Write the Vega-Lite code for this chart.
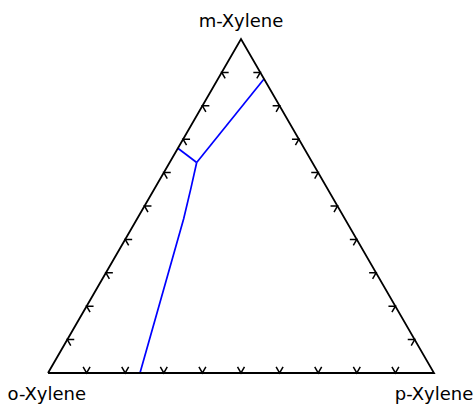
{
  "$schema": "https://vega.github.io/schema/vega-lite/v6.json",
  "width": 386,
  "height": 334,
  "autosize": "none",
  "padding": {"left": 48, "top": 39, "right": 42, "bottom": 32},
  "background": "white",
  "config": {"view": {"stroke": null}},
  "datasets": {
    "frame": [
      {"x": 0, "y": 0, "o": 0},
      {"x": 1, "y": 0, "o": 1},
      {"x": 0.5, "y": 0.866, "o": 2},
      {"x": 0, "y": 0, "o": 3}
    ],
    "curve": [
      {"seg": "a", "o": 0, "x": 0.5596, "y": 0.7625},
      {"seg": "a", "o": 1, "x": 0.3852, "y": 0.5459},
      {"seg": "b", "o": 0, "x": 0.3365, "y": 0.5828},
      {"seg": "b", "o": 1, "x": 0.3852, "y": 0.5459},
      {"seg": "c", "o": 0, "x": 0.3852, "y": 0.5459},
      {"seg": "c", "o": 1, "x": 0.3705, "y": 0.48},
      {"seg": "c", "o": 2, "x": 0.3515, "y": 0.40},
      {"seg": "c", "o": 3, "x": 0.2383, "y": 0}
    ],
    "bottomTicks": [
      {"x": 0.1, "y": 0}, {"x": 0.2, "y": 0}, {"x": 0.3, "y": 0},
      {"x": 0.4, "y": 0}, {"x": 0.5, "y": 0}, {"x": 0.6, "y": 0},
      {"x": 0.7, "y": 0}, {"x": 0.8, "y": 0}, {"x": 0.9, "y": 0}
    ],
    "leftTicks": [
      {"x": 0.05, "y": 0.0866}, {"x": 0.1, "y": 0.1732}, {"x": 0.15, "y": 0.2598},
      {"x": 0.2, "y": 0.3464}, {"x": 0.25, "y": 0.433}, {"x": 0.3, "y": 0.5196},
      {"x": 0.35, "y": 0.6062}, {"x": 0.4, "y": 0.6928}, {"x": 0.45, "y": 0.7794}
    ],
    "rightTicks": [
      {"x": 0.95, "y": 0.0866}, {"x": 0.9, "y": 0.1732}, {"x": 0.85, "y": 0.2598},
      {"x": 0.8, "y": 0.3464}, {"x": 0.75, "y": 0.433}, {"x": 0.7, "y": 0.5196},
      {"x": 0.65, "y": 0.6062}, {"x": 0.6, "y": 0.6928}, {"x": 0.55, "y": 0.7794}
    ],
    "labels": [
      {"label": "m-Xylene", "x": 0.5, "y": 0.897},
      {"label": "o-Xylene", "x": -0.003, "y": -0.07},
      {"label": "p-Xylene", "x": 1.0, "y": -0.07}
    ]
  },
  "encoding": {
    "x": {"field": "x", "type": "quantitative", "scale": {"domain": [0, 1], "nice": false, "zero": false}, "axis": null},
    "y": {"field": "y", "type": "quantitative", "scale": {"domain": [0, 0.866], "nice": false, "zero": false}, "axis": null}
  },
  "layer": [
    {
      "data": {"name": "curve"},
      "mark": {"type": "line", "color": "#0000ff", "strokeWidth": 1.7, "clip": false},
      "encoding": {"detail": {"field": "seg"}, "order": {"field": "o", "type": "quantitative"}}
    },
    {
      "data": {"name": "frame"},
      "mark": {"type": "line", "color": "#000000", "strokeWidth": 1.8, "strokeJoin": "miter", "clip": false},
      "encoding": {"order": {"field": "o", "type": "quantitative"}}
    },
    {
      "data": {"name": "bottomTicks"},
      "mark": {"type": "point", "shape": "M -0.55 -0.95 L 0 0 L 0.55 -0.95", "filled": false, "stroke": "#000000", "strokeWidth": 1.5, "opacity": 1, "size": 160}
    },
    {
      "data": {"name": "leftTicks"},
      "mark": {"type": "point", "shape": "M 1.1 0 L 0 0 L 0.55 0.95", "filled": false, "stroke": "#000000", "strokeWidth": 1.5, "opacity": 1, "size": 160}
    },
    {
      "data": {"name": "rightTicks"},
      "mark": {"type": "point", "shape": "M -1.1 0 L 0 0 L -0.55 0.95", "filled": false, "stroke": "#000000", "strokeWidth": 1.5, "opacity": 1, "size": 160}
    },
    {
      "data": {"name": "labels"},
      "mark": {"type": "text", "font": "DejaVu Sans", "fontSize": 18, "color": "#000000", "align": "center", "baseline": "alphabetic"},
      "encoding": {"text": {"field": "label"}}
    }
  ]
}
